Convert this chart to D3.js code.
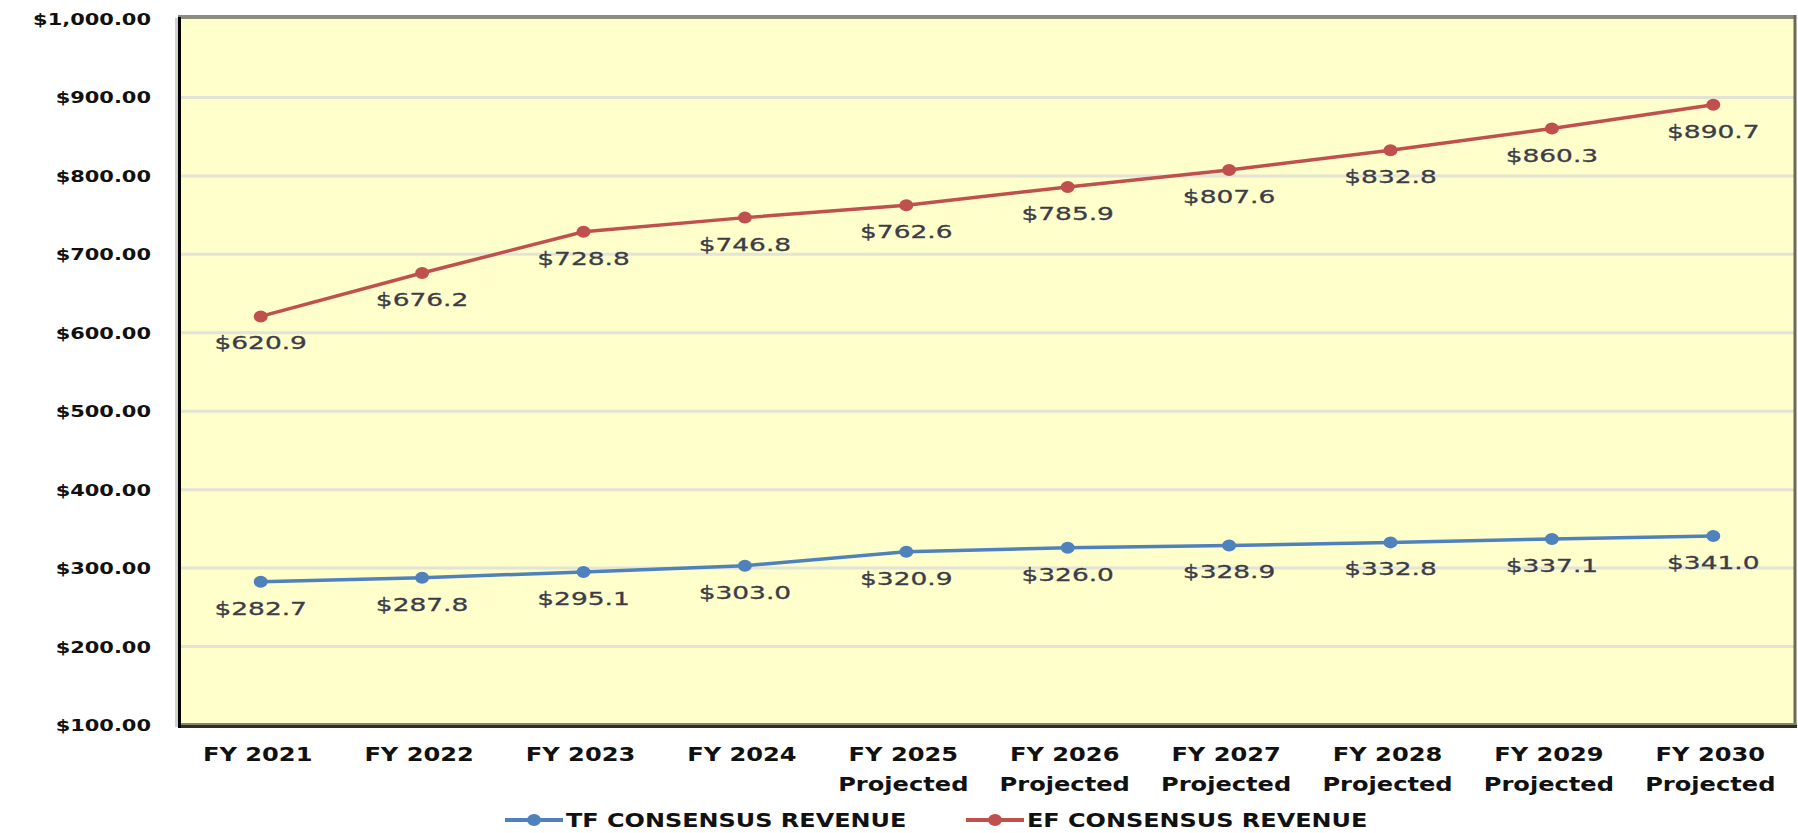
<!DOCTYPE html>
<html>
<head>
<meta charset="utf-8">
<script src="https://cdn.jsdelivr.net/npm/d3@7"></script>
<style>
  body { margin: 0; background: #fff; }
  svg { display: block; }
</style>
</head>
<body>
<svg id="chart" width="1798" height="833"></svg>
<script>
// chart data
const years = ['FY 2021', 'FY 2022', 'FY 2023', 'FY 2024', 'FY 2025', 'FY 2026', 'FY 2027', 'FY 2028', 'FY 2029', 'FY 2030'];
const projected = [false, false, false, false, true, true, true, true, true, true];
const tfRevenue = [282.7, 287.8, 295.1, 303.0, 320.9, 326.0, 328.9, 332.8, 337.1, 341.0];
const efRevenue = [620.9, 676.2, 728.8, 746.8, 762.6, 785.9, 807.6, 832.8, 860.3, 890.7];
const yTicks = [100, 200, 300, 400, 500, 600, 700, 800, 900, 1000];
const seriesNames = ['TF CONSENSUS REVENUE', 'EF CONSENSUS REVENUE'];
const seriesColors = ['#4f81bd', '#c0504d'];

// the source picture is stretched sideways, so text gets a horizontal scale
const stretch = 1.27;

const svg = d3.select('#chart');
const plot = { left: 180, right: 1794, top: 18, bottom: 725 };

const x = d3.scalePoint().domain(years).range([plot.left, plot.right]).padding(0.5);
const y = d3.scaleLinear().domain([100, 1000]).range([plot.bottom, plot.top + 1]);

// plot background and frame
svg.append('rect')
  .attr('x', plot.left - 5).attr('y', plot.top)
  .attr('width', 3).attr('height', plot.bottom - plot.top + 2)
  .attr('fill', '#d0d0d0');
svg.append('rect')
  .attr('x', plot.left).attr('y', plot.top)
  .attr('width', plot.right - plot.left).attr('height', plot.bottom - plot.top)
  .attr('fill', '#ffffcc');

// gridlines
svg.selectAll('.grid').data(yTicks.slice(1, -1)).enter().append('line')
  .attr('class', 'grid')
  .attr('x1', plot.left).attr('x2', plot.right)
  .attr('y1', d => y(d)).attr('y2', d => y(d))
  .attr('stroke', '#e4e4d6').attr('stroke-width', 3);

// frame edges
svg.append('line').attr('x1', plot.left - 2).attr('x2', plot.right + 2)
  .attr('y1', plot.top - 1).attr('y2', plot.top - 1)
  .attr('stroke', '#8c8c7c').attr('stroke-width', 4);
svg.append('line').attr('x1', plot.right + 1).attr('x2', plot.right + 1)
  .attr('y1', plot.top - 3).attr('y2', plot.bottom + 3)
  .attr('stroke', '#6b6b58').attr('stroke-width', 3);
svg.append('line').attr('x1', plot.left - 2).attr('x2', plot.right + 3)
  .attr('y1', plot.bottom - 1).attr('y2', plot.bottom - 1)
  .attr('stroke', '#85856a').attr('stroke-width', 2);
svg.append('line').attr('x1', plot.left - 2).attr('x2', plot.right + 3)
  .attr('y1', plot.bottom + 1.5).attr('y2', plot.bottom + 1.5)
  .attr('stroke', '#2e2e26').attr('stroke-width', 3);
svg.append('line').attr('x1', plot.left - 0.5).attr('x2', plot.left - 0.5)
  .attr('y1', plot.top - 1).attr('y2', plot.bottom + 3)
  .attr('stroke', '#000').attr('stroke-width', 3);

// y axis labels
svg.selectAll('.ylab').data(yTicks).enter().append('text')
  .attr('class', 'ylab')
  .attr('transform', d => 'translate(151,' + y(d) + ') scale(' + stretch + ',1)')
  .attr('dy', '0.36em')
  .attr('text-anchor', 'end')
  .style('font-family', 'DejaVu Sans')
  .style('font-weight', 'bold')
  .style('font-size', '16.5px')
  .attr('fill', '#111')
  .text(d => '$' + d3.format(',.2f')(d));

// x axis labels
const xl = svg.selectAll('.xlab').data(years).enter().append('text')
  .attr('class', 'xlab')
  .attr('transform', d => 'translate(' + (x(d) - 3) + ',761) scale(' + stretch + ',1)')
  .attr('text-anchor', 'middle')
  .style('font-family', 'DejaVu Sans')
  .style('font-weight', 'bold')
  .style('font-size', '19px')
  .attr('fill', '#111');
xl.append('tspan').attr('x', 0).text(d => d);
xl.append('tspan').attr('x', 0).attr('dy', 30)
  .text((d, i) => projected[i] ? 'Projected' : '');

// lines, markers and value labels
const series = [tfRevenue, efRevenue];
const line = d3.line().x((d, i) => x(years[i])).y(d => y(d));

series.forEach((values, s) => {
  svg.append('path')
    .datum(values)
    .attr('d', line)
    .attr('fill', 'none')
    .attr('stroke', seriesColors[s])
    .attr('stroke-width', 3.5);
  svg.selectAll('.dot' + s).data(values).enter().append('ellipse')
    .attr('class', 'dot' + s)
    .attr('cx', (d, i) => x(years[i]))
    .attr('cy', d => y(d))
    .attr('rx', 7).attr('ry', 6)
    .attr('fill', seriesColors[s]);
  svg.selectAll('.val' + s).data(values).enter().append('text')
    .attr('class', 'val' + s)
    .attr('transform', (d, i) => 'translate(' + x(years[i]) + ',' + (y(d) + 33) + ') scale(1.47,1)')
    .attr('text-anchor', 'middle')
    .style('font-family', 'DejaVu Sans')
    .style('font-size', '18px')
    .style('stroke', '#3c3c48')
    .style('stroke-width', 0.3)
    .attr('fill', '#3c3c48')
    .text(d => '$' + d.toFixed(1));
});

// legend
const legendX = [505, 966];
seriesNames.forEach((name, s) => {
  const g = svg.append('g').attr('transform', 'translate(' + legendX[s] + ',820)');
  g.append('line').attr('x1', 0).attr('x2', 58).attr('y1', 0).attr('y2', 0)
    .attr('stroke', seriesColors[s]).attr('stroke-width', 4);
  g.append('ellipse').attr('cx', 29).attr('cy', 0).attr('rx', 7).attr('ry', 6)
    .attr('fill', seriesColors[s]);
  g.append('text')
    .attr('transform', 'translate(61,7) scale(1.26,1)')
    .style('font-family', 'DejaVu Sans')
    .style('font-weight', 'bold')
    .style('font-size', '19px')
    .attr('fill', '#111')
    .text(name);
});
</script>
</body>
</html>
